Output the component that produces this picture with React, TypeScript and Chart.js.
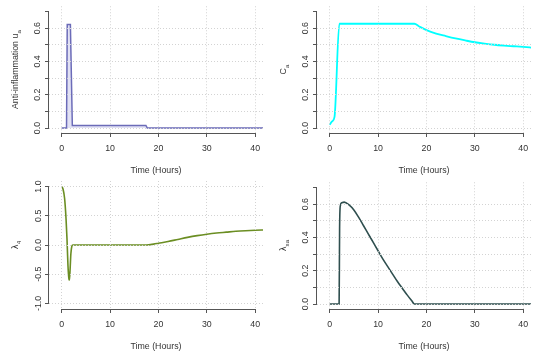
import React, { useEffect, useRef } from 'react';
import { Chart, registerables } from 'chart.js';

Chart.register(...registerables);

// ---------- data ----------
const xTicks = [0, 10, 20, 30, 40];
const xTitle = 'Time (Hours)';

const yTicksFrac = [0, 0.1, 0.2, 0.3, 0.4, 0.5, 0.6, 0.7];
const yLabelsFrac = ['0.0', '', '0.2', '', '0.4', '', '0.6', ''];
const yTicksLambda4 = [-1, -0.5, 0, 0.5, 1];
const yLabelsLambda4 = ['-1.0', '-0.5', '0.0', '0.5', '1.0'];

const uaTime = [0, 1.0, 1.15, 1.8, 2.2, 17.4, 17.7, 42];
const uaValue = [0, 0, 0.622, 0.622, 0.016, 0.016, 0, 0];

const caTime = [0, 0.5, 1.0, 2.0, 17.5, 18.5, 20, 22, 24, 26, 28, 30, 32, 34, 36, 38, 40, 42];
const caValue = [0.02, 0.04, 0.067, 0.626, 0.626, 0.61, 0.588, 0.567, 0.552, 0.538, 0.526, 0.515, 0.507, 0.5, 0.495, 0.491, 0.487, 0.482];

const l4Time = [0, 0.3, 0.6, 0.9, 1.1, 1.3, 1.5, 1.6, 1.75, 1.9, 2.1, 2.3, 17.5, 19, 20, 22, 24, 26, 28, 30, 32, 34, 36, 38, 40, 42];
const l4Value = [1.0, 0.95, 0.8, 0.45, 0.1, -0.35, -0.58, -0.6, -0.4, -0.15, -0.02, 0, 0, 0.015, 0.03, 0.06, 0.095, 0.13, 0.16, 0.185, 0.205, 0.22, 0.235, 0.245, 0.252, 0.257];

const lsaTime = [0, 1.95, 2.05, 2.2, 2.5, 3, 4, 5, 6, 7, 8, 9, 10, 11, 12, 13, 14, 15, 16, 17, 17.5, 42];
const lsaValue = [0, 0, 0.45, 0.59, 0.608, 0.612, 0.595, 0.565, 0.52, 0.47, 0.42, 0.37, 0.32, 0.27, 0.225, 0.18, 0.135, 0.095, 0.055, 0.018, 0, 0];

// ---------- style ----------
const FONT = "'Liberation Sans', Arial, Helvetica, sans-serif";
const FONT_SIZE = 8.8;
const AXIS_COLOR = '#555555';
const TEXT_COLOR = '#333333';
const GRID_COLOR = '#d3d3d3';

type PanelCfg = {
  time: number[];
  values: number[];
  color: string;
  fill?: string;
  smooth: boolean;
  width: number;
  yTicks: number[];
  yLabels: string[];
  yMin: number;
  yMax: number;
  noGrid: number[];
  titleMain: string;
  titleSub: string;
  yPad: number;
};

const rAxesPlugin = {
  id: 'rAxes',
  afterDraw(chart: any, _args: any, opts: any) {
    const { ctx, chartArea, scales } = chart;
    const xs = scales.x;
    const ys = scales.y;
    ctx.save();
    ctx.strokeStyle = AXIS_COLOR;
    ctx.lineWidth = 1;
    ctx.setLineDash([]);
    const xt = xs.ticks;
    const yb = Math.round(chartArea.bottom) + 0.5;
    ctx.beginPath();
    ctx.moveTo(xs.getPixelForValue(xt[0].value), yb);
    ctx.lineTo(xs.getPixelForValue(xt[xt.length - 1].value), yb);
    ctx.stroke();
    const yt = ys.ticks;
    const xl = Math.round(chartArea.left) - 0.5;
    ctx.beginPath();
    ctx.moveTo(xl, ys.getPixelForValue(yt[0].value));
    ctx.lineTo(xl, ys.getPixelForValue(yt[yt.length - 1].value));
    ctx.stroke();

    ctx.fillStyle = TEXT_COLOR;
    ctx.font = `${FONT_SIZE}px ${FONT}`;
    ctx.textAlign = 'center';
    ctx.textBaseline = 'middle';
    ctx.fillText(opts.xTitle, (chartArea.left + chartArea.right) / 2, 171);

    // rotated y title with subscript
    ctx.translate(15, (chartArea.top + chartArea.bottom) / 2);
    ctx.rotate(-Math.PI / 2);
    ctx.textAlign = 'left';
    ctx.textBaseline = 'alphabetic';
    ctx.font = `${FONT_SIZE}px ${FONT}`;
    const wMain = ctx.measureText(opts.main).width;
    ctx.font = `${FONT_SIZE * 0.7}px ${FONT}`;
    const wSub = ctx.measureText(opts.sub).width;
    const start = -(wMain + wSub) / 2;
    ctx.font = `${FONT_SIZE}px ${FONT}`;
    ctx.fillText(opts.main, start, 3.2);
    ctx.font = `${FONT_SIZE * 0.7}px ${FONT}`;
    ctx.fillText(opts.sub, start + wMain + 0.3, 5.6);
    ctx.restore();
  },
};

const panels: PanelCfg[] = [
  {
    time: uaTime, values: uaValue, color: '#6b6bb8', fill: 'rgba(120,120,205,0.22)', smooth: false, width: 1.5,
    yTicks: yTicksFrac, yLabels: yLabelsFrac, yMin: -0.0297, yMax: 0.731, noGrid: [0.7],
    titleMain: 'Anti-inflammation u', titleSub: 'a', yPad: 0,
  },
  {
    time: caTime, values: caValue, color: '#00ffff', smooth: true, width: 1.8,
    yTicks: yTicksFrac, yLabels: yLabelsFrac, yMin: -0.0297, yMax: 0.731, noGrid: [0.7],
    titleMain: 'C', titleSub: 'a', yPad: 0,
  },
  {
    time: l4Time, values: l4Value, color: '#6b8e23', smooth: true, width: 1.6,
    yTicks: yTicksLambda4, yLabels: yLabelsLambda4, yMin: -1.095, yMax: 1.095, noGrid: [],
    titleMain: 'λ', titleSub: '4', yPad: -2,
  },
  {
    time: lsaTime, values: lsaValue, color: '#2f4f4f', smooth: true, width: 1.6,
    yTicks: yTicksFrac, yLabels: yLabelsFrac, yMin: -0.0297, yMax: 0.731, noGrid: [0.7],
    titleMain: 'λ', titleSub: 'sa', yPad: 0,
  },
];

function Panel({ cfg }: { cfg: PanelCfg }) {
  const ref = useRef<HTMLCanvasElement>(null);
  useEffect(() => {
    const data = cfg.time.map((t, i) => ({ x: t, y: cfg.values[i] }));
    const chart = new Chart(ref.current as HTMLCanvasElement, {
      type: 'line',
      data: {
        datasets: [
          {
            data,
            borderColor: cfg.color,
            backgroundColor: cfg.fill || 'transparent',
            fill: cfg.fill ? 'origin' : false,
            borderWidth: cfg.width,
            pointRadius: 0,
            cubicInterpolationMode: cfg.smooth ? 'monotone' : 'default',
            tension: 0,
          },
        ],
      },
      options: {
        animation: false,
        responsive: false,
        maintainAspectRatio: false,
        events: [],
        layout: { padding: { top: 5, right: 5, left: 0, bottom: 0 } },
        plugins: {
          legend: { display: false },
          tooltip: { enabled: false },
          rAxes: { xTitle, main: cfg.titleMain, sub: cfg.titleSub },
        } as any,
        scales: {
          x: {
            type: 'linear',
            min: -2.62,
            max: 41.6,
            afterBuildTicks: (s: any) => {
              s.ticks = xTicks.map((v) => ({ value: v }));
            },
            afterFit: (s: any) => {
              s.height = 43;
            },
            border: { display: false, dash: [1, 2] },
            grid: {
              z: 1,
              color: GRID_COLOR,
              lineWidth: 1,
              drawTicks: true,
              tickLength: 4,
              tickColor: AXIS_COLOR,
              tickBorderDash: [],
              tickWidth: 1,
            } as any,
            ticks: {
              autoSkip: false,
              maxRotation: 0,
              minRotation: 0,
              padding: 6,
              color: TEXT_COLOR,
              font: { family: FONT, size: FONT_SIZE },
              callback: (v: any) => String(v),
            },
          },
          y: {
            type: 'linear',
            min: cfg.yMin,
            max: cfg.yMax,
            afterBuildTicks: (s: any) => {
              s.ticks = cfg.yTicks.map((v) => ({ value: v }));
            },
            afterFit: (s: any) => {
              s.width = 49;
            },
            border: { display: false, dash: [1, 2] },
            grid: {
              z: 1,
              color: (c: any) => (c.tick && cfg.noGrid.includes(c.tick.value) ? 'rgba(0,0,0,0)' : GRID_COLOR),
              lineWidth: 1,
              drawTicks: true,
              tickLength: 4,
              tickColor: AXIS_COLOR,
              tickBorderDash: [],
              tickWidth: 1,
            } as any,
            ticks: {
              autoSkip: false,
              minRotation: 90,
              maxRotation: 90,
              crossAlign: 'center',
              padding: 1 + cfg.yPad,
              color: TEXT_COLOR,
              font: { family: FONT, size: FONT_SIZE },
              callback: (_v: any, i: number) => cfg.yLabels[i],
            },
          },
        },
      },
      plugins: [rAxesPlugin],
    } as any);
    return () => chart.destroy();
  }, [cfg]);
  return (
    <canvas
      ref={ref}
      width={268}
      height={176}
      style={{ display: 'block', width: 268, height: 176 }}
    />
  );
}

export default function App() {
  return (
    <div
      style={{
        position: 'absolute',
        left: 0,
        top: 0,
        width: 536,
        height: 352,
        background: '#ffffff',
        display: 'grid',
        gridTemplateColumns: '268px 268px',
        gridTemplateRows: '176px 176px',
      }}
    >
      {panels.map((p, i) => (
        <Panel key={i} cfg={p} />
      ))}
    </div>
  );
}
